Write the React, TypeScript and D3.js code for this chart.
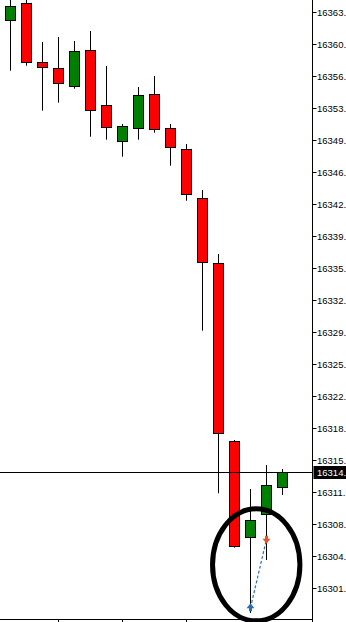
import React from "react";
import * as d3 from "d3";

const opens = [16362.61, 16364.44, 16358.12, 16357.44, 16355.57, 16359.41, 16353.46, 16349.65, 16351.05, 16354.64, 16350.98, 16348.72, 16343.45, 16336.45, 16317.36, 16307.03, 16309.44, 16312.41];
const highs = [16365.1, 16365.0, 16360.27, 16360.81, 16360.38, 16361.46, 16357.69, 16351.45, 16355.43, 16356.61, 16351.45, 16349.29, 16344.34, 16337.45, 16317.44, 16312.16, 16314.74, 16314.31];
const lows = [16357.18, 16357.72, 16352.88, 16353.74, 16355.25, 16350.08, 16349.76, 16347.93, 16349.76, 16350.51, 16346.96, 16343.19, 16329.2, 16311.7, 16305.85, 16298.82, 16304.52, 16311.52];
const closes = [16364.15, 16358.09, 16357.55, 16355.83, 16359.3, 16352.92, 16351.16, 16351.23, 16354.54, 16350.94, 16348.94, 16343.88, 16336.56, 16318.16, 16306.06, 16308.83, 16312.59, 16314.02];

const yTickValues = [16301.55, 16304.99, 16308.43, 16311.87, 16315.31, 16318.75, 16322.19, 16325.63, 16329.07, 16332.51, 16335.95, 16339.39, 16342.83, 16346.27, 16349.71, 16353.15, 16356.59, 16360.03, 16363.47];
const yTickLabels = ["16301.", "16304.", "16308.", "16311.", "16315.", "16318.", "16322.", "16325.", "16329.", "16332.", "16335.", "16339.", "16342.", "16346.", "16349.", "16353.", "16356.", "16360.", "16363."];
const xTickIndices = [3, 7, 11];

const currentPrice = 16314.02;
const currentLabel = "16314.";

const buyMarker = { index: 15, price: 16299.39 };
const sellMarker = { index: 16, price: 16306.76 };

const ellipseNote = { centerIndex: 15.37, centerPrice: 16304.0, halfWidthBars: 2.73, halfHeightPrice: 6.03 };

const W = 346;
const H = 622;
const plotRight = 312.5;
const plotBottom = 619.5;

export default function App() {
  const x = d3.scaleLinear().domain([0, 17]).range([10.3, 282.3]);
  const y = d3.scaleLinear().domain([16301.55, 16363.47]).range([587.6, 12.3]);
  const n = opens.length;
  const idx = d3.range(n);
  const bodyW = 10;
  const px = (i: number) => Math.round(x(i)) + 0.5;
  const font = "'Liberation Sans', Arial, sans-serif";

  const ecx = x(ellipseNote.centerIndex);
  const ecy = y(ellipseNote.centerPrice);
  const erx = x(ellipseNote.centerIndex + ellipseNote.halfWidthBars) - ecx;
  const ery = y(ellipseNote.centerPrice - ellipseNote.halfHeightPrice) - ecy;

  const bx = px(buyMarker.index);
  const by = y(buyMarker.price);
  const sx = px(sellMarker.index);
  const sy = y(sellMarker.price);
  const cy = Math.round(y(currentPrice)) + 0.5;

  return (
    <svg width={W} height={H} style={{ position: "absolute", left: 0, top: 0, background: "#fff" }}>
      <defs>
        <clipPath id="plot">
          <rect x={0} y={0} width={plotRight} height={plotBottom} />
        </clipPath>
      </defs>
      <rect x={0} y={0} width={W} height={H} fill="#fff" />
      <g clipPath="url(#plot)">
        {idx.map((i) => {
          const cx = px(i);
          const up = closes[i] >= opens[i];
          const top = y(Math.max(opens[i], closes[i]));
          const bot = y(Math.min(opens[i], closes[i]));
          return (
            <g key={i}>
              <line x1={cx} x2={cx} y1={y(highs[i])} y2={y(lows[i])} stroke="#000" strokeWidth={1} />
              <rect
                x={cx - bodyW / 2}
                y={Math.round(top) + 0.5}
                width={bodyW}
                height={Math.max(1, Math.round(bot) - Math.round(top))}
                fill={up ? "#008000" : "#ff0000"}
                stroke="#000"
                strokeWidth={1}
              />
            </g>
          );
        })}
        <line x1={0} x2={plotRight} y1={cy} y2={cy} stroke="#000" strokeWidth={1} />
        <line x1={bx} y1={by} x2={sx} y2={sy} stroke="#2a6fb5" strokeWidth={1.2} strokeDasharray="3,2" />
        <path
          d={`M${bx},${by - 4.5} L${bx + 4},${by + 0.5} L${bx + 1.5},${by + 0.5} L${bx + 1.5},${by + 3.5} L${bx - 1.5},${by + 3.5} L${bx - 1.5},${by + 0.5} L${bx - 4},${by + 0.5} Z`}
          fill="#2a6fb5"
        />
        <path
          d={`M${sx},${sy + 4.5} L${sx + 4},${sy - 0.5} L${sx + 1.5},${sy - 0.5} L${sx + 1.5},${sy - 3.5} L${sx - 1.5},${sy - 3.5} L${sx - 1.5},${sy - 0.5} L${sx - 4},${sy - 0.5} Z`}
          fill="#e8542a"
        />
      </g>
      <ellipse cx={ecx} cy={ecy} rx={erx} ry={ery} fill="none" stroke="#000" strokeWidth={5} />
      <line x1={plotRight} x2={plotRight} y1={0} y2={H} stroke="#000" strokeWidth={1} />
      <line x1={0} x2={plotRight} y1={plotBottom} y2={plotBottom} stroke="#000" strokeWidth={1} />
      {xTickIndices.map((i) => (
        <line key={i} x1={px(i)} x2={px(i)} y1={plotBottom} y2={plotBottom + 3} stroke="#000" strokeWidth={1} />
      ))}
      {yTickValues.map((v, k) => {
        const ty = Math.round(y(v)) + 0.5;
        return (
          <g key={k}>
            <line x1={plotRight} x2={plotRight + 4} y1={ty} y2={ty} stroke="#000" strokeWidth={1} />
            <text x={317} y={ty} dy="0.35em" fontFamily={font} fontSize={9.5} fill="#000">
              {yTickLabels[k]}
            </text>
          </g>
        );
      })}
      <rect x={313.5} y={cy - 6.5} width={33} height={13} fill="#000" />
      <text x={317} y={cy} dy="0.35em" fontFamily={font} fontSize={9.5} fill="#fff">
        {currentLabel}
      </text>
    </svg>
  );
}
